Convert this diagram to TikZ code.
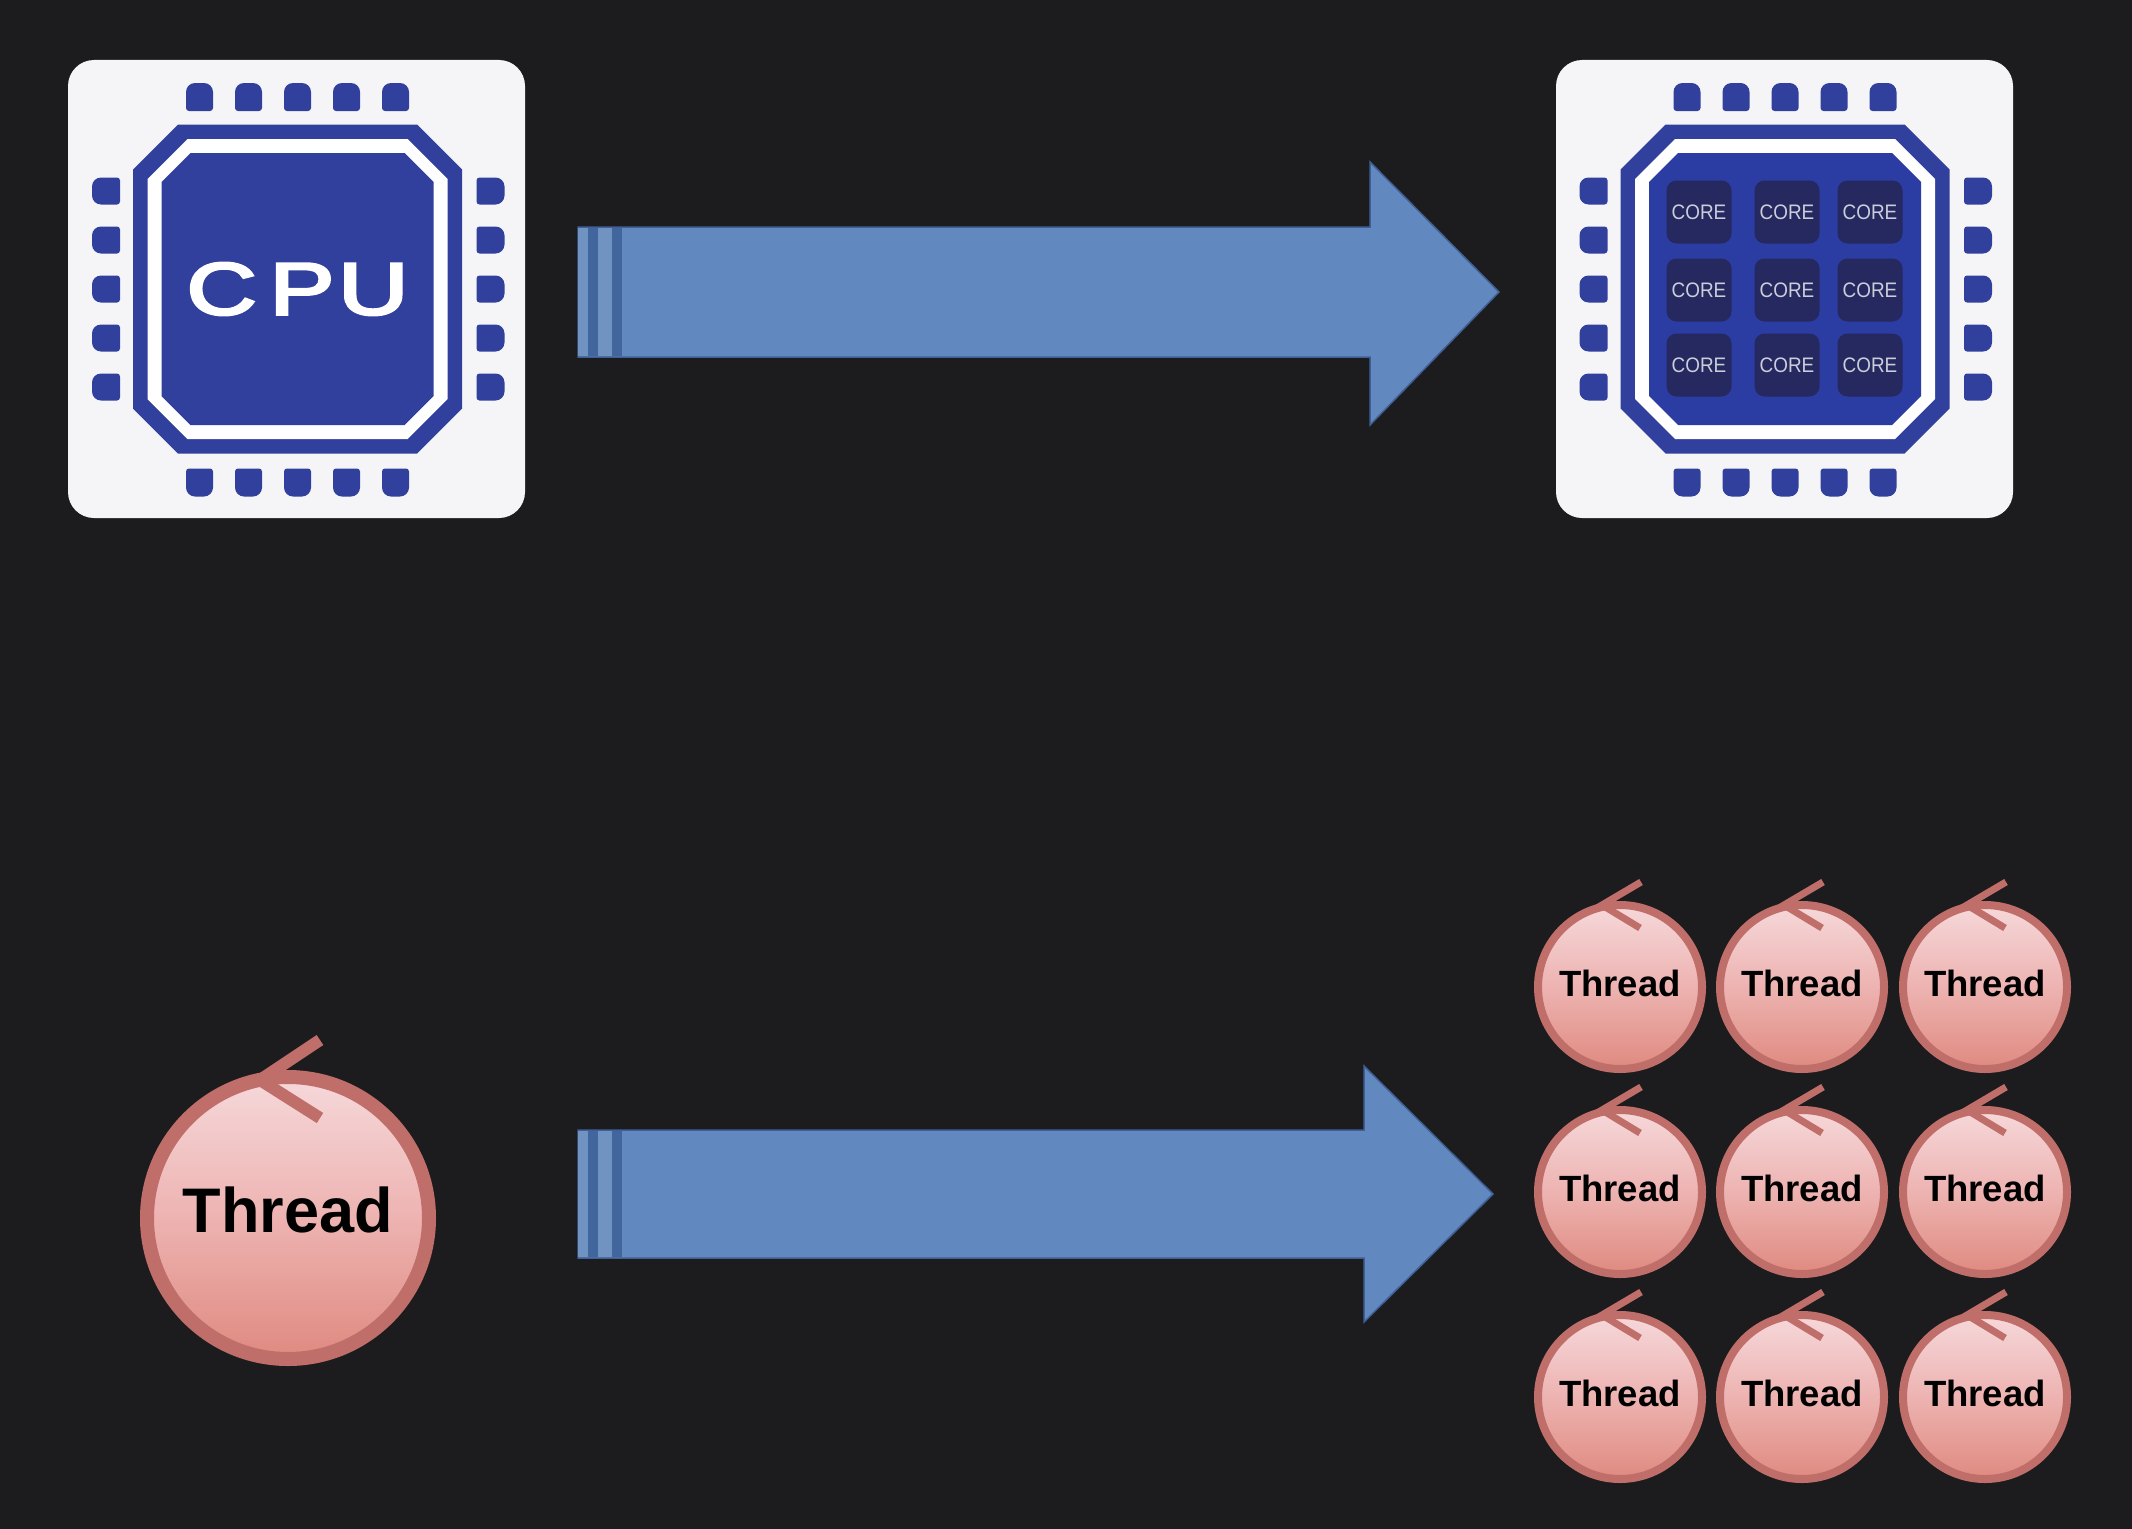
\documentclass[tikz,border=0pt]{standalone}
\usepackage{fontspec}
\setmainfont{Liberation Sans}
\newfontfamily\cpufont[FakeBold=3.5]{Liberation Sans}
\definecolor{bgdark}{HTML}{1C1C1E}
\definecolor{cardwhite}{HTML}{F5F5F7}
\definecolor{chipblue}{HTML}{31409C}
\definecolor{chipbright}{HTML}{2B3DA3}
\definecolor{coredark}{HTML}{26295F}
\definecolor{coretext}{HTML}{CBCDDA}
\definecolor{arrowblue}{HTML}{6289BF}
\definecolor{arrowedge}{HTML}{3F5F95}
\definecolor{arrowdark}{HTML}{41669E}
\definecolor{arrowpale}{HTML}{7093C2}
\definecolor{threadline}{HTML}{C06E69}
\definecolor{threadtop}{HTML}{F6D8DA}
\definecolor{threadmid}{HTML}{EDB3B1}
\definecolor{threadbot}{HTML}{DF8A80}
\tikzset{
  x=1pt,y=-1pt,
  cardbox/.style={draw=none,fill=cardwhite,rounded corners=26pt,minimum width=457pt,minimum height=458pt,inner sep=0pt},
  corebox/.style={fill=coredark,rounded corners=10pt,minimum width=65pt,minimum height=63pt,inner sep=0pt,text=coretext,font=\fontsize{21}{21}\selectfont},
  threadbig/.style={circle,draw=threadline,line width=14pt,minimum size=282pt,inner sep=0pt,text depth=16pt,
    top color=threadtop,bottom color=threadbot,middle color=threadmid,font=\fontsize{63}{63}\selectfont\bfseries},
  threadsmall/.style={circle,draw=threadline,line width=8pt,minimum size=164pt,inner sep=0pt,text depth=8pt,
    top color=threadtop,bottom color=threadbot,middle color=threadmid,font=\fontsize{36.5}{36.5}\selectfont\bfseries},
  markbig/.style={draw=threadline,line width=12pt,line join=miter},
  marksmall/.style={draw=threadline,line width=7pt,line join=miter},
  blockarrow/.style={fill=arrowblue,draw=arrowedge,line width=1.5pt,line join=miter},
  pin/.pic={\fill[chipblue,rounded corners=3pt] (-13.5,14) {[rounded corners=9pt] -- (-13.5,-14) -- (13.5,-14)} -- (13.5,14) -- cycle;},
  octagon/.pic={\path[pic actions] (-\octh+\octc,-\octh) -- (\octh-\octc,-\octh) -- (\octh,-\octh+\octc) -- (\octh,\octh-\octc) -- (\octh-\octc,\octh) -- (-\octh+\octc,\octh) -- (-\octh,\octh-\octc) -- (-\octh,-\octh+\octc) -- cycle;},
}
\newcommand\octh{0}\newcommand\octc{0}
\newcommand\ChipBody[2]{% centre, inner colour
  \foreach \k in {-98,-49,0,49,98}{
    \pic at ([shift={(\k,-192)}]#1) {pin};
    \pic[rotate=180] at ([shift={(\k,193.5)}]#1) {pin};
    \pic[rotate=90] at ([shift={(-191.5,\k)}]#1) {pin};
    \pic[rotate=-90] at ([shift={(193,\k)}]#1) {pin};
  }
  \renewcommand\octh{164.5}\renewcommand\octc{45}
  \pic[fill=chipblue] at (#1) {octagon};
  \renewcommand\octh{150}\renewcommand\octc{40}
  \pic[fill=white] at (#1) {octagon};
  \renewcommand\octh{136}\renewcommand\octc{29}
  \pic[fill=#2] at (#1) {octagon};
}
\begin{document}
\begin{tikzpicture}
\useasboundingbox (0,0) rectangle (2132,1528);
\fill[bgdark] (-6,-6) rectangle (2138,1534);

% cards
\node[cardbox] (cpucard) at (296.5,289) {};
\node[cardbox] (corecard) at (1784.5,289) {};
\coordinate (cpuchip) at (297.5,289);
\coordinate (corechip) at (1785,289);
\ChipBody{cpuchip}{chipblue}
\ChipBody{corechip}{chipbright}

\node[text=white,inner sep=0pt,font=\cpufont\fontsize{74}{74}\selectfont] (cpulabel) at (297.5,289) {\scalebox{1.31}[1]{C\kern 10pt P\kern 3pt U}};

\foreach \cx/\cn in {-86/a,2/b,85/c}{
  \foreach \cy/\rn in {-77/a,1/b,76/c}{
    \node[corebox] (core\rn\cn) at ([shift={(\cx,\cy)}]corechip) {\scalebox{0.9}[1]{CORE}};
  }
}

% block arrows
\coordinate (a1s) at (578,292);
\coordinate (a1t) at (1499,292);
\path[blockarrow] ([yshift=-65pt]a1s) -- (1370,357) -- (1370,425) -- (a1t) -- (1370,162) -- (1370,227) -- ([yshift=65pt]a1s) -- cycle;
\coordinate (a2s) at (578,1194);
\coordinate (a2t) at (1493,1194);
\path[blockarrow] ([yshift=-64pt]a2s) -- (1364,1258) -- (1364,1322) -- (a2t) -- (1364,1066) -- (1364,1130) -- ([yshift=64pt]a2s) -- cycle;
\foreach \sy/\shalf in {292/64,1194/63}{
  \fill[arrowpale] (578,\sy-\shalf) rectangle (588,\sy+\shalf);
  \fill[arrowdark] (588,\sy-\shalf) rectangle (598,\sy+\shalf);
  \fill[arrowpale] (598,\sy-\shalf) rectangle (612,\sy+\shalf);
  \fill[arrowdark] (612,\sy-\shalf) rectangle (622,\sy+\shalf);
}

% big thread
\node[threadbig] (tbig) at (288,1218) {Thread};
\draw[markbig] ([shift={(32,-178)}]tbig.center) -- ([shift={(-28,-138)}]tbig.center) -- ([shift={(32,-100)}]tbig.center);

% small threads
\foreach \tx/\cn in {1620/a,1802/b,1985/c}{
  \foreach \ty/\rn in {987/a,1192/b,1397/c}{
    \node[threadsmall] (t\rn\cn) at (\tx,\ty) {Thread};
    \draw[marksmall] ([shift={(21,-105)}]t\rn\cn.center) -- ([shift={(-18,-82)}]t\rn\cn.center) -- ([shift={(20,-59)}]t\rn\cn.center);
  }
}
\end{tikzpicture}
\end{document}
